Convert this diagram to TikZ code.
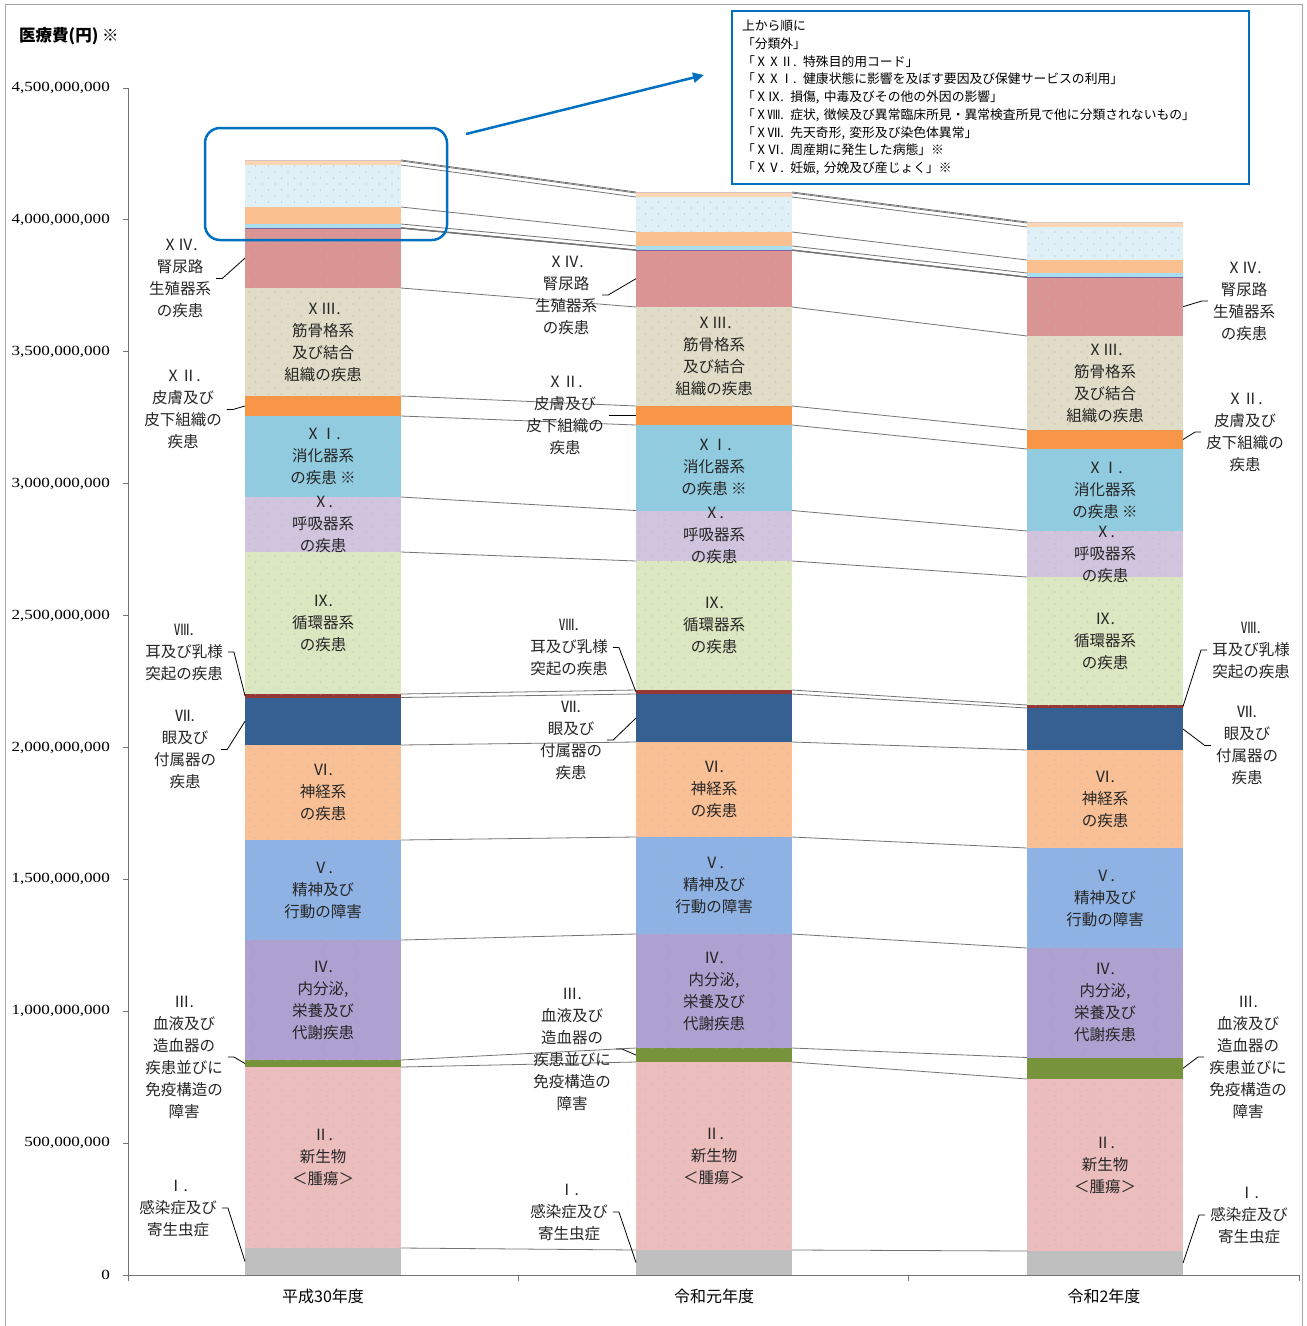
\documentclass[tikz,border=0pt]{standalone}
\usepackage{fontspec}
\setmainfont{Liberation Serif}
\newfontfamily\jp{Noto Sans CJK JP}
\newfontfamily\numfont[FakeStretch=1.22]{Liberation Serif}
\usetikzlibrary{arrows.meta, patterns.meta}

\definecolor{keyblue}{HTML}{0070C0}
\definecolor{c1}{HTML}{BFBFBF}
\definecolor{c2}{HTML}{EBBDBC}
\definecolor{c3}{HTML}{77933C}
\definecolor{c4}{HTML}{AEA0D0}
\definecolor{c5}{HTML}{8FB2E4}
\definecolor{c6}{HTML}{FAC095}
\definecolor{c7}{HTML}{376092}
\definecolor{c8}{HTML}{953735}
\definecolor{c9}{HTML}{DAE7C1}
\definecolor{c10}{HTML}{D0C4DE}
\definecolor{c11}{HTML}{90CBDF}
\definecolor{c12}{HTML}{F79646}
\definecolor{c13}{HTML}{E0DCC7}
\definecolor{c14}{HTML}{DA9493}
\definecolor{c15}{HTML}{4BACC6}
\definecolor{c16}{HTML}{F79646}
\definecolor{c17}{HTML}{8064A2}
\definecolor{c18}{HTML}{A9DDF0}
\definecolor{c19}{HTML}{FAC090}
\definecolor{c20}{HTML}{DFF0F7}
\definecolor{c21}{HTML}{FCD5B4}
\definecolor{c22}{HTML}{D9C3C0}

\tikzdeclarepattern{
  name=speckle, type=uncolored,
  bottom left={(-1pt,-1pt)}, top right={(12pt,11pt)},
  tile size={(13pt,12pt)},
  code={\pgfpathcircle{\pgfpoint{2pt}{2pt}}{0.7pt}
        \pgfpathcircle{\pgfpoint{8.5pt}{8pt}}{0.7pt}
        \pgfusepath{fill}}
}

\begin{document}
\begin{tikzpicture}[x=1pt, y=-1pt,
    tex/.style={postaction={pattern=speckle, pattern color=black!28}},
    s1/.style={fill=c1}, s2/.style={fill=c2, tex}, s3/.style={fill=c3},
    s4/.style={fill=c4, tex}, s5/.style={fill=c5, tex}, s6/.style={fill=c6, tex},
    s7/.style={fill=c7}, s8/.style={fill=c8}, s9/.style={fill=c9, tex},
    s10/.style={fill=c10, tex}, s11/.style={fill=c11, tex}, s12/.style={fill=c12},
    s13/.style={fill=c13, tex}, s14/.style={fill=c14, tex}, s15/.style={fill=c15},
    s16/.style={fill=c16}, s17/.style={fill=c17}, s18/.style={fill=c18},
    s19/.style={fill=c19}, s20/.style={fill=c20, tex}, s21/.style={fill=c21},
    s22/.style={fill=c22},
    seglab/.style={font=\jp\fontsize{15.5}{22}\selectfont, align=center, text=black!85, inner sep=0pt},
    outlab/.style={seglab, inner xsep=5pt},
    numlab/.style={font=\numfont\fontsize{14}{16}\selectfont, anchor=east, inner sep=0pt},
    catlab/.style={font=\jp\fontsize{16}{18}\selectfont, inner sep=0pt},
    link/.style={draw=black!55, line width=0.8pt},
    leader/.style={draw=black, line width=0.8pt},
    axisline/.style={draw=black!55, line width=0.8pt},
    chartframe/.style={draw=black!35, line width=0.8pt},
    keybox/.style={draw=keyblue, line width=2pt, align=left, text width=497pt,
      inner xsep=10pt, minimum height=173pt, font=\jp\fontsize{12.8}{17.75}\selectfont},
    callout/.style={draw=keyblue, line width=2.5pt, rounded corners=15pt,
      minimum width=242pt, minimum height=112pt},
    callarrow/.style={draw=keyblue, line width=2.5pt, -{Triangle[length=11pt, width=10pt]}}]
  \useasboundingbox (0,0) rectangle (1307,1326);
  % Frame
  \draw[chartframe] (5,1326) -- (5,4) -- (1302,4) -- (1302,1326);
  % Axes
  \draw[axisline] (128,88) -- (128,1275) -- (1299,1275);
  \foreach \k/\lab in {0/0, 1/{500,000,000}, 2/{1,000,000,000}, 3/{1,500,000,000},
      4/{2,000,000,000}, 5/{2,500,000,000}, 6/{3,000,000,000}, 7/{3,500,000,000},
      8/{4,000,000,000}, 9/{4,500,000,000}}{
    \draw[axisline] (123,1275-131.89*\k) -- (128,1275-131.89*\k);
    \node[numlab] (ylab\k) at (110,1275-131.89*\k) {\lab};
  }
  \foreach \x in {128, 518.3, 908.7, 1299}
    \draw[axisline] (\x,1275) -- (\x,1281);
  \node[font=\jp\bfseries\fontsize{16.5}{18}\selectfont, anchor=west, inner sep=0pt] (ytitle) at (19,36) {医療費(円) ※};
  % Stacked bars
  \foreach \bar/\xl/\tops in {
    a/245/{1/1248, 2/1067, 3/1060, 4/940, 5/840, 6/745, 7/697.5, 8/694, 9/552, 10/497,
           11/416, 12/396, 13/288, 14/228.3, 15/228.1, 16/227.9, 17/227.6, 18/224,
           19/207, 20/165, 21/161, 22/160},
    b/636/{1/1250, 2/1062, 3/1048, 4/934, 5/837, 6/742, 7/694, 8/690, 9/561, 10/510.5,
           11/425, 12/406, 13/307, 14/250.4, 15/250.2, 16/250, 17/249.8, 18/246,
           19/232, 20/197, 21/193, 22/192},
    c/1027/{1/1251, 2/1079, 3/1057.5, 4/948, 5/848, 6/750, 7/708, 8/705, 9/577, 10/531,
           11/449, 12/430, 13/336, 14/277.4, 15/277.2, 16/277.1, 17/276.9, 18/273,
           19/260, 20/227, 21/223, 22/222}}{
    \foreach \i/\t [remember=\t as \lastt (initially 1275)] in \tops {
      \path[s\i] (\xl,\lastt) rectangle (\xl+156,\t);
      \coordinate (\bar\i-l) at (\xl,\t);
      \coordinate (\bar\i-r) at (\xl+156,\t);
      \coordinate (\bar\i-ml) at (\xl,{(\t+\lastt)/2});
      \coordinate (\bar\i-mr) at (\xl+156,{(\t+\lastt)/2});
      \coordinate (\bar\i-c) at (\xl+78,{(\t+\lastt)/2});
    }
  }
  % Series lines between bars
  \foreach \i in {1,...,22}{
    \draw[link] (a\i-r) -- (b\i-l);
    \draw[link] (b\i-r) -- (c\i-l);
  }
  % Labels inside the bars
  \foreach \i/\txt in {
    2/{Ⅱ.\\新生物\\＜腫瘍＞},
    4/{Ⅳ.\\内分泌,\\栄養及び\\代謝疾患},
    5/{Ⅴ.\\精神及び\\行動の障害},
    6/{Ⅵ.\\神経系\\の疾患},
    9/{Ⅸ.\\循環器系\\の疾患},
    10/{Ⅹ.\\呼吸器系\\の疾患},
    11/{ⅩⅠ.\\消化器系\\の疾患 ※},
    13/{ⅩⅢ.\\筋骨格系\\及び結合\\組織の疾患}}{
    \foreach \bar in {a,b,c}
      \node[seglab] (\bar-in\i) at (\bar\i-c) {\txt};
  }
  % Labels beside the bars
  \foreach \i/\xa/\ya/\xb/\yb/\xc/\yc/\txt in {
    14/180/278.5/566/295/1244/301/{ⅩⅣ.\\腎尿路\\生殖器系\\の疾患},
    12/183/409.5/565/415.5/1245/432/{ⅩⅡ.\\皮膚及び\\皮下組織の\\疾患},
    8/184/652/569/647.5/1251/650/{Ⅷ.\\耳及び乳様\\突起の疾患},
    7/185/749.5/571/740/1247/745.5/{Ⅶ.\\眼及び\\付属器の\\疾患},
    3/184/1057/572/1049/1248/1057/{Ⅲ.\\血液及び\\造血器の\\疾患並びに\\免疫構造の\\障害},
    1/178/1208/569/1212/1249/1215/{Ⅰ.\\感染症及び\\寄生虫症}}{
    \node[outlab] (a-out\i) at (\xa,\ya) {\txt};
    \node[outlab] (b-out\i) at (\xb,\yb) {\txt};
    \node[outlab] (c-out\i) at (\xc,\yc) {\txt};
    \draw[leader] (a-out\i.east) -- ++(6,0) -- (a\i-ml);
    \draw[leader] (b-out\i.east) -- ++(6,0) -- (b\i-ml);
    \draw[leader] (c-out\i.west) -- ++(-6,0) -- (c\i-mr);
  }
  % Categories
  \node[catlab] (cat-a) at (323,1296) {平成30年度};
  \node[catlab] (cat-b) at (714,1296) {令和元年度};
  \node[catlab] (cat-c) at (1104,1296) {令和2年度};
  % Callout and key
  \node[callout] (zoombox) at (326,184) {};
  \coordinate (arrtail) at (466,134);
  \coordinate (arrhead) at (704,75);
  \draw[callarrow] (arrtail) -- (arrhead);
  \node[keybox, anchor=north west] (key) at (731,10) {上から順に\\
    「分類外」\\
    「ⅩⅩⅡ. 特殊目的用コード」\\
    「ⅩⅩⅠ. 健康状態に影響を及ぼす要因及び保健サービスの利用」\\
    「ⅩⅨ. 損傷, 中毒及びその他の外因の影響」\\
    「ⅩⅧ. 症状, 徴候及び異常臨床所見・異常検査所見で他に分類されないもの」\\
    「ⅩⅦ. 先天奇形, 変形及び染色体異常」\\
    「ⅩⅥ. 周産期に発生した病態」※\\
    「ⅩⅤ. 妊娠, 分娩及び産じょく」※};
\end{tikzpicture}
\end{document}
